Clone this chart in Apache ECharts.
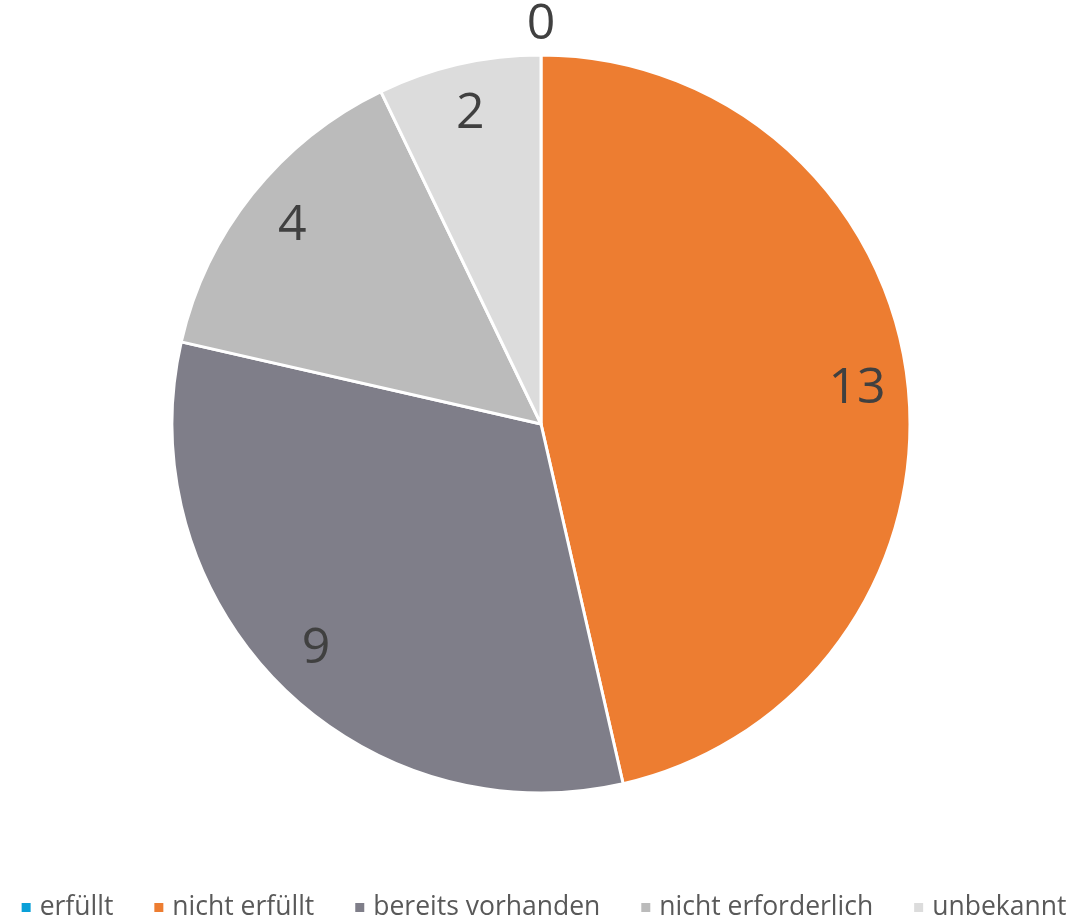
<!DOCTYPE html>
<html>
<head>
<meta charset="utf-8">
<script src="https://cdn.jsdelivr.net/npm/echarts@6/dist/echarts.min.js"></script>
<style>html,body{margin:0;padding:0;background:#fff;}#c{width:1086px;height:920px;}</style>
</head>
<body>
<div id="c"></div>
<script>
const categories = ['erfüllt', 'nicht erfüllt', 'bereits vorhanden', 'nicht erforderlich', 'unbekannt'];
const values = [0, 13, 9, 4, 2];
const colors = ['#0AA0D8', '#ED7D31', '#7F7E89', '#BBBBBB', '#DCDCDC'];

const chart = echarts.init(document.getElementById('c'));
const font = '"Open Sans", "Noto Sans", sans-serif';
const pieData = categories.map((n, i) => ({ name: n, value: values[i], itemStyle: { color: colors[i] } }));
const labelData = categories.map((n, i) => ({
  name: n, value: values[i],
  label: values[i] === 0 ? { offset: [0, -81] } : {}
}));
chart.setOption({
  animation: false,
  legend: {
    top: 889,
    left: 'center',
    icon: 'path://M0,0H10V10H0Z',
    itemWidth: 17,
    itemHeight: 11,
    itemGap: 39,
    textStyle: { fontFamily: font, fontSize: 26.5, color: '#595959' },
    data: categories
  },
  series: [
    {
      type: 'pie',
      center: [541, 424],
      radius: [0, 369],
      startAngle: 90,
      clockwise: true,
      label: { show: false },
      labelLine: { show: false },
      itemStyle: { borderColor: '#fff', borderWidth: 3 },
      emphasis: { disabled: true },
      data: pieData
    },
    {
      type: 'pie',
      center: [541, 424],
      radius: [0, 630],
      startAngle: 90,
      clockwise: true,
      silent: true,
      itemStyle: { color: 'rgba(0,0,0,0)' },
      label: { show: true, position: 'inside', formatter: '{c}', fontFamily: font, fontSize: 50, color: '#404040' },
      labelLine: { show: false },
      emphasis: { disabled: true },
      data: labelData
    }
  ]
});
</script>
</body>
</html>
